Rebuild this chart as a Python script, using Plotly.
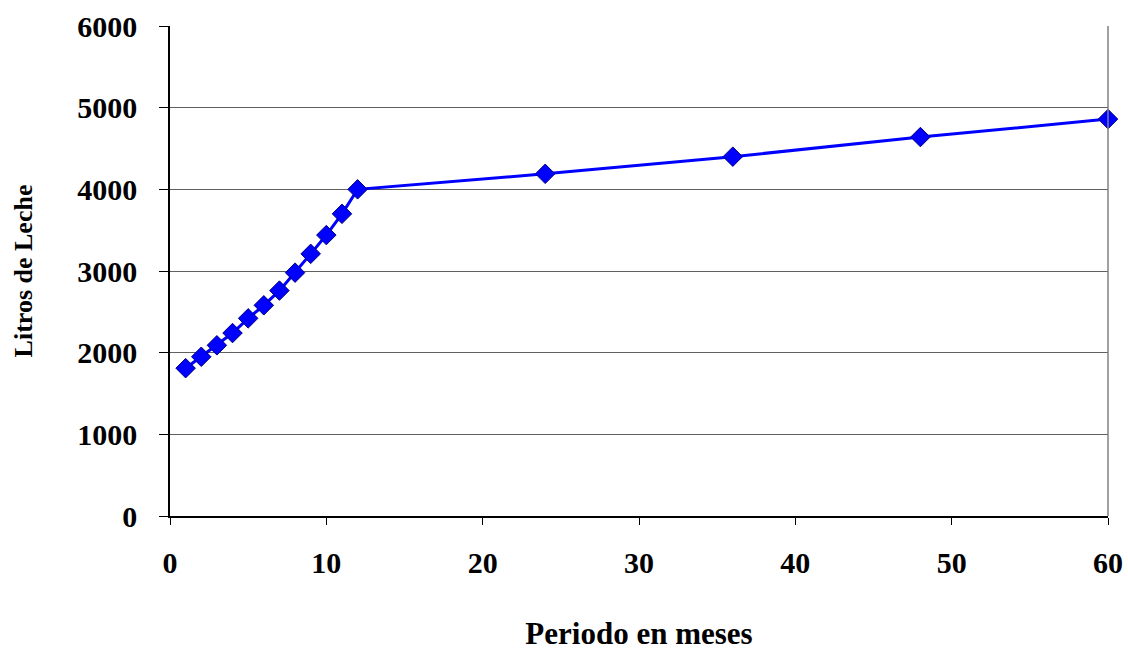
import plotly.graph_objects as go

# Milk production by period (months)
meses = [1, 2, 3, 4, 5, 6, 7, 8, 9, 10, 11, 12, 24, 36, 48, 60]
litros = [1810, 1950, 2090, 2240, 2420, 2580, 2760, 2980, 3210, 3440, 3700, 4000,
          4190, 4400, 4640, 4860]

x_ticks = [0, 10, 20, 30, 40, 50, 60]
y_ticks = [0, 1000, 2000, 3000, 4000, 5000, 6000]

font_family = "Liberation Serif, Times New Roman, serif"

fig = go.Figure()
fig.add_trace(go.Scatter(
    x=meses, y=litros,
    mode="lines+markers",
    line=dict(color="#0000FF", width=3),
    marker=dict(symbol="diamond", size=15, color="#0000FF",
                line=dict(color="#000080", width=1)),
    showlegend=False,
    cliponaxis=False,
))

fig.update_layout(
    width=1128, height=651,
    margin=dict(l=170, r=20, t=26, b=135),
    paper_bgcolor="white",
    plot_bgcolor="white",
    font=dict(family=font_family, size=30, color="black"),
    shapes=[dict(type="line", xref="paper", yref="paper",
                 x0=1, x1=1, y0=0, y1=1,
                 line=dict(color="#808080", width=1.5))],
)

fig.update_xaxes(
    range=[0, 60],
    tickvals=x_ticks,
    ticktext=[str(v) for v in x_ticks],
    showgrid=False,
    zeroline=False,
    automargin=False,
    showline=True, linecolor="black", linewidth=1.5,
    ticks="outside", ticklen=7, tickcolor="black", tickwidth=1,
    ticklabelstandoff=12,
    tickfont=dict(family=font_family, size=30, color="black", weight="bold"),
    title=dict(text="<b>Periodo en meses</b>", standoff=47,
               font=dict(family=font_family, size=31, color="black")),
)

fig.update_yaxes(
    range=[0, 6000],
    tickvals=y_ticks,
    ticktext=[str(v) for v in y_ticks],
    showgrid=True, gridcolor="#606060", gridwidth=1.2,
    zeroline=False,
    automargin=False,
    showline=True, linecolor="black", linewidth=1.5,
    ticks="outside", ticklen=9, tickcolor="black", tickwidth=1,
    ticklabelstandoff=16,
    tickfont=dict(family=font_family, size=30, color="black", weight="bold"),
    title=dict(text="<b>Litros de Leche</b>", standoff=37,
               font=dict(family=font_family, size=26, color="black")),
)

fig.write_html("out.html")
